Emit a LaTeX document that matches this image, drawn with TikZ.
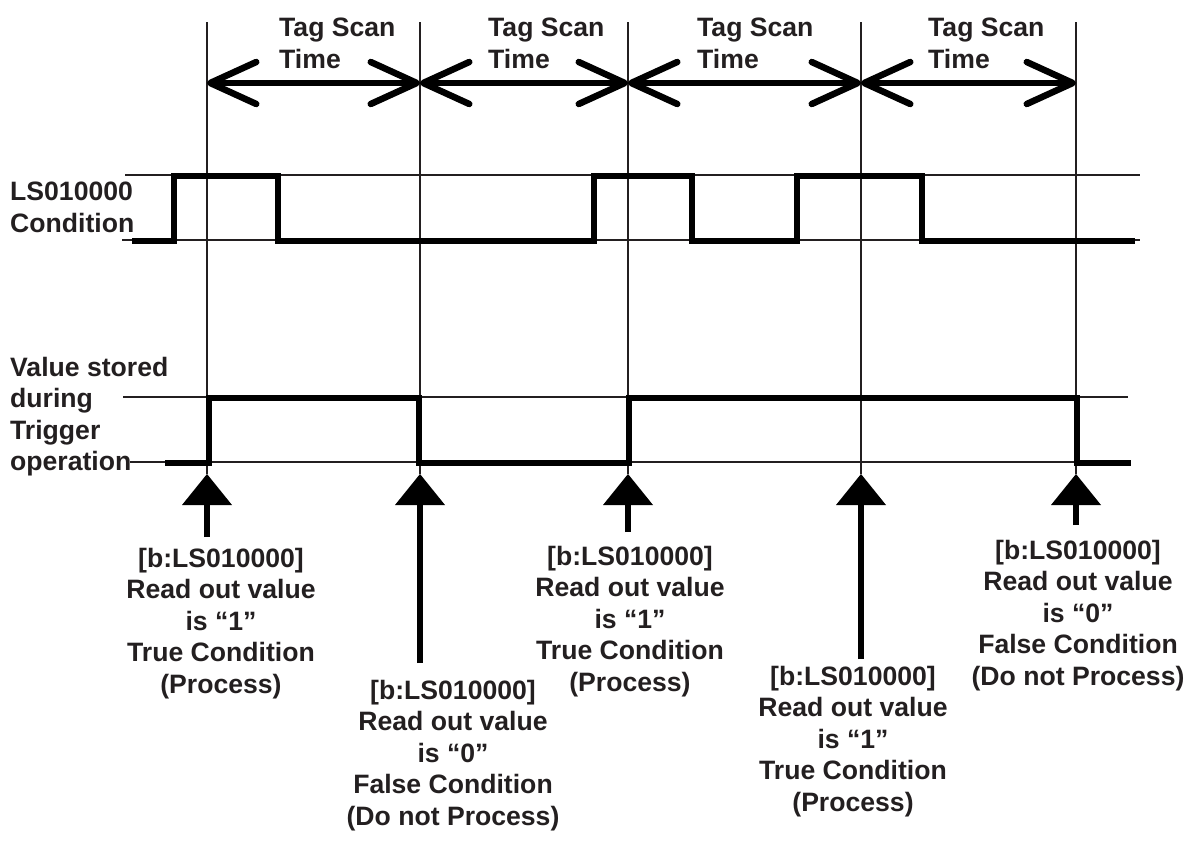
\documentclass[tikz,border=0pt]{standalone}
\usepackage{fontspec}
\setmainfont{Liberation Sans}
\usetikzlibrary{arrows.meta,positioning}
\definecolor{inkc}{HTML}{231F20}
\newcommand{\diagfont}{\fontsize{26.6}{31.5}\selectfont\bfseries}
\tikzset{
  every picture/.append style={font=\diagfont},
  guide/.style   = {draw=inkc, line width=1.3pt},
  wave/.style    = {draw=black, line width=6pt, line join=miter},
  barb/.tip      = {Straight Barb[length=46pt, width=42pt, round]},
  span/.style    = {draw=black, line width=6.5pt, barb-barb},
  readarr/.style = {draw=black, line width=6pt,
                    -{Triangle[length=31pt, width=50pt, line width=0pt]}},
  sidelbl/.style = {text=inkc, inner sep=0pt, align=left, anchor=north west},
  readlbl/.style = {text=inkc, inner sep=0pt, align=center, anchor=north},
}
\begin{document}
\begin{tikzpicture}[x=1pt, y=-1pt]
  \useasboundingbox (0,0) rectangle (1186,841);
  % scan instants
  \foreach \n/\x in {1/207, 2/420, 3/628, 4/861, 5/1076}{%
    \draw[guide] (\x,22) -- (\x,474);
    \coordinate (m\n) at (\x,83);}
  % level lines
  \draw[guide] (125,175) -- (1140,175);
  \draw[guide] (122,240) -- (1140,240);
  \draw[guide] (123,397) -- (1128,397);
  \draw[guide] (130,462) -- (1130,462);
  % scan time spans
  \foreach \a/\b/\tx in {1/2/279, 2/3/488, 3/4/697, 4/5/928}{%
    \draw[span] (m\a) -- (m\b);
    \node[sidelbl] (scan\a) at (\tx,18) {Tag Scan\\Time};}
  % signal names
  \node[sidelbl] (cond) at (10,182) {LS010000\\Condition};
  \node[sidelbl] (stored) at (10,357)
    {Value stored\\during\\Trigger\\operation};
  % LS010000 condition
  \draw[wave] (132,241) -- (174,241) -- (174,176) -- (278,176) -- (278,241)
    -- (594,241) -- (594,176) -- (692,176) -- (692,241) -- (797,241)
    -- (797,176) -- (922,176) -- (922,241) -- (1135,241);
  % stored value
  \draw[wave] (165,463) -- (209,463) -- (209,398) -- (419,398) -- (419,463)
    -- (629,463) -- (629,398) -- (1077,398) -- (1077,463) -- (1131,463);
  % read-out arrows and their notes
  \foreach \n/\x/\s in {1/207/537, 2/420/663, 3/628/532, 4/861/659, 5/1076/525}{%
    \coordinate (r\n) at (\x,474);
    \coordinate (s\n) at (\x,\s);
    \draw[readarr] (s\n) -- (r\n);}
  \node[readlbl] (read1) at (221,548)
    {[b:LS010000]\\Read out value\\is “1”\\True Condition\\(Process)};
  \node[readlbl] (read2) at (453,680)
    {[b:LS010000]\\Read out value\\is “0”\\False Condition\\(Do not Process)};
  \node[readlbl] (read3) at (630,546)
    {[b:LS010000]\\Read out value\\is “1”\\True Condition\\(Process)};
  \node[readlbl] (read4) at (853,666)
    {[b:LS010000]\\Read out value\\is “1”\\True Condition\\(Process)};
  \node[readlbl] (read5) at (1078,540)
    {[b:LS010000]\\Read out value\\is “0”\\False Condition\\(Do not Process)};
\end{tikzpicture}
\end{document}
